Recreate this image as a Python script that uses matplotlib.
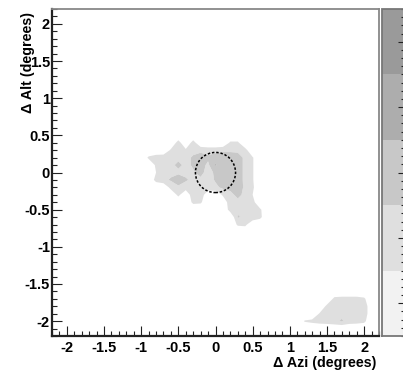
import matplotlib
matplotlib.use("Agg")
import matplotlib.pyplot as plt
import numpy as np
from matplotlib.colors import BoundaryNorm, ListedColormap
from matplotlib.cm import ScalarMappable
from matplotlib.patches import Circle
from matplotlib.ticker import MultipleLocator, NullFormatter

plt.rcParams["font.family"] = ["Liberation Sans", "DejaVu Sans"]

# Binned map, 0.1 deg bins. Central excess: x from -1.0, y from 0.5 downward.
center_x0, center_y0 = -1.0, 0.5
center_cells = [
    [0, 0, 0, 0, 0, 0, 0, 0, 0, 0, 0, 0, 0, 0, 0, 0, 0, 0],
    [0, 0, 0, 0, 0, 1.5, 0, 1.5, 0, 0, 0, 0, 1.2, 1.2, 0, 0, 0, 0],
    [0, 0, 0, 0, 1.2, 1.8, 1.2, 1.8, 1.8, 1.6, 1.6, 1.8, 1.8, 1.8, 1.4, 0, 0, 0],
    [0, 1.2, 1.6, 1.7, 1.8, 1.8, 1.8, 2.1, 2.4, 2.2, 2.6, 2.6, 2.6, 2.4, 1.8, 1.1, 0, 0],
    [0, 0, 1.2, 1.8, 1.8, 2.2, 1.8, 2.1, 2.4, 1.8, 3.1, 2.6, 2.6, 2.4, 1.8, 1.1, 0, 0],
    [0, 0, 1.0, 1.7, 1.8, 1.8, 1.8, 1.9, 2.3, 1.6, 2.2, 2.6, 2.6, 2.4, 1.8, 1.1, 0, 0],
    [0, 0, 1.4, 1.8, 2.1, 2.6, 2.1, 1.8, 1.8, 1.6, 2.1, 2.6, 2.6, 2.4, 1.8, 1.1, 0, 0],
    [0, 0, 0, 0, 1.4, 1.8, 1.6, 1.8, 1.8, 1.8, 1.8, 2.2, 2.2, 2.5, 1.8, 1.2, 0, 0],
    [0, 0, 0, 0, 0, 1.3, 0, 1.8, 1.8, 0, 0, 1.2, 1.8, 2.2, 1.8, 1.0, 0, 0],
    [0, 0, 0, 0, 0, 0, 0, 1.3, 1.2, 0, 0, 0, 1.8, 1.8, 1.8, 1.4, 0, 0],
    [0, 0, 0, 0, 0, 0, 0, 0, 0, 0, 0, 0, 1.5, 1.8, 1.8, 1.8, 1.2, 0],
    [0, 0, 0, 0, 0, 0, 0, 0, 0, 0, 0, 0, 0, 2.1, 1.8, 1.8, 1.3, 0],
    [0, 0, 0, 0, 0, 0, 0, 0, 0, 0, 0, 0, 0, 1.2, 1.3, 0, 0, 0],
    [0, 0, 0, 0, 0, 0, 0, 0, 0, 0, 0, 0, 0, 0, 0, 0, 0, 0],
]

# Small patch in the lower right corner: x from 1.1, y from -1.6 downward.
corner_x0, corner_y0 = 1.1, -1.6
corner_cells = [
    [0, 0, 0, 0, 0, 0, 0, 0, 0, 0, 0],
    [0, 0, 0, 0, 0, 1.3, 1.4, 1.4, 1.4, 1.2, 0],
    [0, 0, 0, 0, 1.3, 1.8, 1.8, 1.8, 1.8, 1.8, 0],
    [0, 0, 0, 1.1, 1.8, 1.8, 1.8, 1.8, 1.8, 1.8, 0],
    [0, 1.1, 1.3, 1.5, 1.6, 1.8, 2.1, 1.6, 1.5, 1.3, 0],
    [0, 0, 0, 0, 0, 0, 0, 0, 0, 0, 0],
]

levels = [0, 1, 2, 3, 4, 5]
band_colors = ["#f2f2f2", "#dfdfdf", "#c8c8c8", "#adadad", "#9a9a9a"]

source_radius = 0.27  # deg

# full grid
step = 0.1
grid = np.round(np.arange(-2.2, 2.2 + step / 2, step), 2)
z = np.zeros((len(grid), len(grid)))


def place(cells, x0, y0):
    ix0 = int(round((x0 - grid[0]) / step))
    for r, row in enumerate(cells):
        iy = int(round((y0 - r * step - grid[0]) / step))
        z[iy, ix0:ix0 + len(row)] = row


place(center_cells, center_x0, center_y0)
place(corner_cells, corner_x0, corner_y0)

W, H = 403, 372
fig = plt.figure(figsize=(W / 100, H / 100), dpi=100)
ax = fig.add_axes([52 / W, 1 - 336 / H, 327 / W, 327 / H])

ax.contourf(grid, grid, z, levels=levels[1:], colors=band_colors[1:], antialiased=True)
ax.add_patch(Circle((0, 0), source_radius, fill=False, ec="black", lw=1.1, ls=(0, (1.6, 1.2))))

ax.set_xlim(-2.2, 2.2)
ax.set_ylim(-2.2, 2.2)
ticks = np.arange(-2, 2.01, 0.5)
fmt = lambda v: "0" if abs(v) < 1e-9 else f"{v:g}"
ax.set_xticks(ticks, [fmt(v) for v in ticks])
ax.set_yticks(ticks, [fmt(v) for v in ticks])
ax.xaxis.set_minor_locator(MultipleLocator(0.1))
ax.yaxis.set_minor_locator(MultipleLocator(0.1))
ax.tick_params(which="both", direction="in", top=False, right=False, width=0.8, color="#222222")
ax.tick_params(which="major", length=7)
ax.tick_params(which="minor", length=3.5)
ax.tick_params(axis="x", which="major", pad=3.5)
ax.tick_params(axis="y", which="major", pad=1.5)
for lab in ax.get_xticklabels() + ax.get_yticklabels():
    lab.set_fontweight("bold")
    lab.set_fontsize(10.5)

for side in ("left", "bottom"):
    ax.spines[side].set_linewidth(1.6)
    ax.spines[side].set_color("#222222")
for side in ("top", "right"):
    ax.spines[side].set_linewidth(1.3)
    ax.spines[side].set_color("#888888")

fig.text(28 / W, 1 - 12 / H, "\u0394 Alt (degrees)", rotation=90, ha="center", va="top",
         fontsize=10.3, fontweight="bold")
fig.text(376 / W, 1 - 363 / H, "\u0394 Azi (degrees)", ha="right", va="center",
         fontsize=10.3, fontweight="bold")

# colour scale, partly cut by the right edge
cax = fig.add_axes([382 / W, 1 - 336 / H, 23 / W, 327 / H])
sm = ScalarMappable(norm=BoundaryNorm(levels, len(band_colors)), cmap=ListedColormap(band_colors))
cb = fig.colorbar(sm, cax=cax)
cb.outline.set_edgecolor("#777777")
cb.outline.set_linewidth(1.3)
cb.set_ticks([0.5, 1.5, 2.5, 3.5, 4.5])
cax.yaxis.set_minor_locator(MultipleLocator(0.125))
cax.yaxis.set_major_formatter(NullFormatter())
cax.tick_params(which="both", direction="in", right=True, left=False, width=0.8, color="#222222")
cax.tick_params(which="major", length=5)
cax.tick_params(which="minor", length=3)

fig.savefig("out.png", dpi=100)
